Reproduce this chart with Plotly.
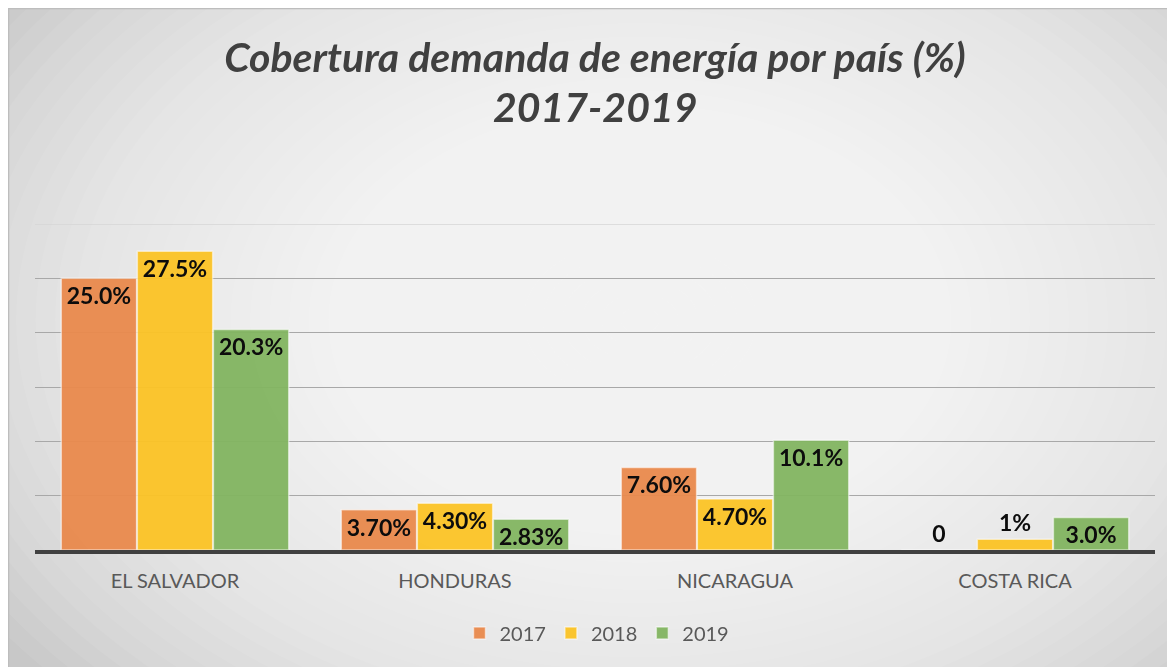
import plotly.graph_objects as go

# ---- data ----
countries = ["EL SALVADOR", "HONDURAS", "NICARAGUA", "COSTA RICA"]
years = ["2017", "2018", "2019"]
v2017 = [25.0, 3.70, 7.60, 0]
v2018 = [27.5, 4.30, 4.70, 1]
v2019 = [20.3, 2.83, 10.1, 3.0]
t2017 = ["25.0%", "3.70%", "7.60%", "0"]
t2018 = ["27.5%", "4.30%", "4.70%", "1%"]
t2019 = ["20.3%", "2.83%", "10.1%", "3.0%"]

colors = ["#E9894C", "#FBC325", "#82B560"]

# page offset (browser body margin)
OFF = 8
PW, PH = 1175, 667
W, H = PW - OFF, PH - OFF
# plot area in page pixels: x 35..1155, y 224..550
L, R, T, B = 35 - OFF, PW - 1155, 224 - OFF, PH - 550
pw, ph = W - L - R, H - T - B


def px(x):
    """page x pixel -> paper coordinate"""
    return (x - OFF - L) / pw


def py(y):
    """page y pixel -> paper coordinate"""
    return (H - B - (y - OFF)) / ph


def positions(vals):
    return ["inside" if v >= 2.5 else "outside" for v in vals]


fig = go.Figure()
for name, vals, txt, col in zip(years, [v2017, v2018, v2019], [t2017, t2018, t2019], colors):
    fig.add_trace(go.Bar(
        name=name, x=countries, y=vals, text=txt,
        textposition=positions(vals), insidetextanchor="end",
        constraintext="none", cliponaxis=False,
        textfont=dict(family="Lato", size=23, color="#000000", weight="bold"),
        marker=dict(color=col, line=dict(color="rgba(255,255,255,0.55)", width=1.5)),
        opacity=0.95,
    ))

shapes = []
# frame background
shapes.append(dict(type="rect", xref="paper", yref="paper",
                   x0=px(0), x1=px(PW + 5), y0=py(PH + 5), y1=py(OFF),
                   fillcolor="#C8C8C8", line=dict(width=0), layer="below"))
# radial gradient approximation
cx, cy = 640, 320
n = 40
for i in range(n):
    f = 1 - i / n
    rx, ry = 780 * f, 540 * f
    shapes.append(dict(type="circle", xref="paper", yref="paper",
                       x0=px(cx - rx), x1=px(cx + rx), y0=py(cy + ry), y1=py(cy - ry),
                       fillcolor="white", opacity=0.07, line=dict(width=0), layer="below"))
# frame border
shapes.append(dict(type="line", xref="paper", yref="paper",
                   x0=px(OFF), x1=px(PW + 5), y0=py(OFF + 0.5), y1=py(OFF + 0.5),
                   line=dict(color="#BDBDBD", width=1.5), layer="below"))
shapes.append(dict(type="line", xref="paper", yref="paper",
                   x0=px(OFF + 0.5), x1=px(OFF + 0.5), y0=py(OFF), y1=py(PH + 5),
                   line=dict(color="#BDBDBD", width=1.5), layer="below"))
# top gridline (lighter)
shapes.append(dict(type="line", xref="paper", yref="y",
                   x0=0, x1=1, y0=30, y1=30,
                   line=dict(color="#D6D6D6", width=1.5), layer="below"))

title_font = dict(family="Lato", size=41, color="#404040", weight="bold", style="italic")

fig.update_layout(
    width=W, height=H,
    margin=dict(l=L, r=R, t=T, b=B),
    paper_bgcolor="white", plot_bgcolor="rgba(0,0,0,0)",
    barmode="group", bargap=0.185, bargroupgap=0.01,
    title=dict(text="Cobertura demanda de energía por país (%)",
               x=px(595), xanchor="center", xref="paper",
               y=1 - (58 - OFF) / H, yanchor="middle", yref="container",
               font=title_font),
    annotations=[dict(text="2017-2019", x=px(595), y=py(106), xref="paper", yref="paper",
                      xanchor="center", yanchor="middle", showarrow=False, font=title_font)],
    xaxis=dict(showline=True, linecolor="#404040", linewidth=4, ticks="",
               tickfont=dict(family="Lato", size=20, color="#595959"),
               ticklabelstandoff=10, showgrid=False),
    yaxis=dict(range=[0, 30], tickvals=[5, 10, 15, 20, 25], showticklabels=False,
               gridcolor="#A8A8A8", gridwidth=1.2, zeroline=False),
    legend=dict(orientation="h", x=px(597), xanchor="center", y=py(633), yanchor="middle",
                font=dict(family="Lato", size=20, color="#595959"),
                bgcolor="rgba(0,0,0,0)"),
    shapes=shapes,
)

fig.write_html("out.html")
